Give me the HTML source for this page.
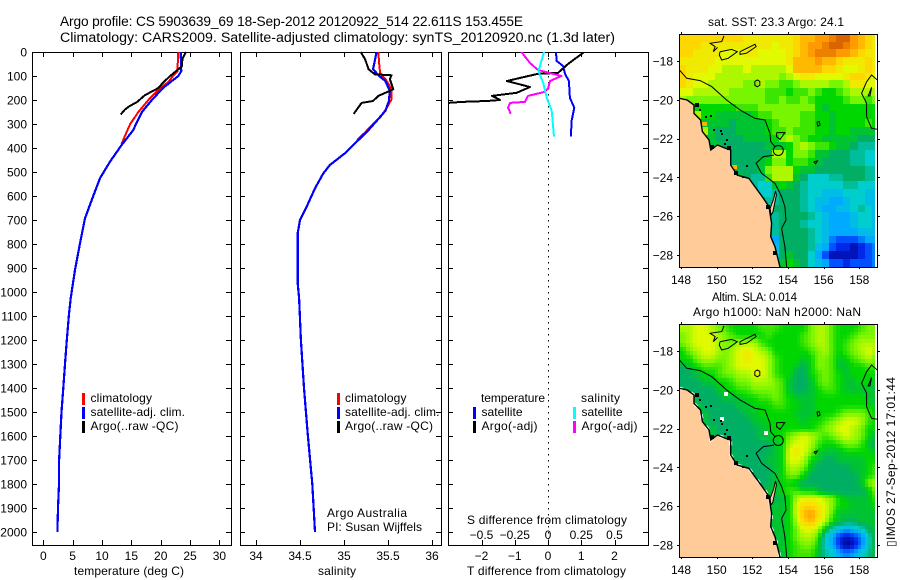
<!DOCTYPE html>
<html lang="en">
<head>
<meta charset="utf-8">
<title>Argo profile chart</title>
<style>
html,body{margin:0;padding:0;background:#fff;}
svg{display:block;font-family:"Liberation Sans",sans-serif;fill:#000;}
text{font-size:12px;}
</style>
</head>
<body>
<svg id="chart" xmlns="http://www.w3.org/2000/svg" width="900" height="580" viewBox="0 0 900 580">
  <defs>
    <clipPath id="clip-diff"><rect x="449" y="52" width="199" height="493"/></clipPath>
    <clipPath id="clip-map1"><rect x="680" y="34" width="197" height="233"/></clipPath>
    <clipPath id="clip-map2"><rect x="680" y="324" width="197" height="233"/></clipPath>
  </defs>
  <text x="60" y="26" style="font-size:13.7px" textLength="463" lengthAdjust="spacing">Argo profile: CS 5903639_69 18-Sep-2012 20120922_514 22.611S 153.455E</text>
  <text x="60" y="42" style="font-size:14.2px" textLength="555" lengthAdjust="spacing">Climatology: CARS2009. Satellite-adjusted climatology: synTS_20120920.nc (1.3d later)</text>

  <g id="marks"></g>

  <g>
    <rect x="82" y="393" width="3" height="12" fill="#f00"/>
    <rect x="82" y="407" width="3" height="12" fill="#00f"/>
    <rect x="82" y="421" width="3" height="12" fill="#000"/>
    <text x="90.5" y="402" textLength="61.5" lengthAdjust="spacing">climatology</text>
    <text x="90.5" y="416" textLength="94.5" lengthAdjust="spacing">satellite-adj. clim.</text>
    <text x="90.5" y="430" textLength="88" lengthAdjust="spacing">Argo(..raw -QC)</text>
  </g>
  <g>
    <rect x="337" y="393" width="3" height="12" fill="#f00"/>
    <rect x="337" y="407" width="3" height="12" fill="#00f"/>
    <rect x="337" y="421" width="3" height="12" fill="#000"/>
    <text x="345" y="402" textLength="61.5" lengthAdjust="spacing">climatology</text>
    <text x="345" y="416" textLength="94.5" lengthAdjust="spacing">satellite-adj. clim.</text>
    <text x="345" y="430" textLength="88" lengthAdjust="spacing">Argo(..raw -QC)</text>
    <text x="327" y="517" textLength="80" lengthAdjust="spacing">Argo Australia</text>
    <text x="327" y="531" textLength="95" lengthAdjust="spacing">PI: Susan Wijffels</text>
  </g>
  <g>
    <text x="481" y="402" textLength="64" lengthAdjust="spacing">temperature</text>
    <rect x="473" y="407" width="3" height="12" fill="#00f"/>
    <rect x="473" y="421" width="3" height="12" fill="#000"/>
    <text x="481.5" y="416" textLength="41" lengthAdjust="spacing">satellite</text>
    <text x="481.5" y="430" textLength="56" lengthAdjust="spacing">Argo(-adj)</text>
    <text x="581" y="402" textLength="39" lengthAdjust="spacing">salinity</text>
    <rect x="573" y="407" width="3" height="12" fill="#0ff"/>
    <rect x="573" y="421" width="3" height="12" fill="#f0f"/>
    <text x="581.5" y="416" textLength="41" lengthAdjust="spacing">satellite</text>
    <text x="581.5" y="430" textLength="56" lengthAdjust="spacing">Argo(-adj)</text>
  </g>

  <text x="74" y="575" textLength="110" lengthAdjust="spacing">temperature (deg C)</text>
  <text x="318" y="575" textLength="38" lengthAdjust="spacing">salinity</text>
  <text x="467" y="575" textLength="159" lengthAdjust="spacing">T difference from climatology</text>
  <text x="467" y="524" textLength="160" lengthAdjust="spacing">S difference from climatology</text>

  <text x="708" y="26" textLength="136" lengthAdjust="spacing">sat. SST: 23.3 Argo: 24.1</text>
  <text x="712" y="301" style="font-size:11.5px" textLength="85" lengthAdjust="spacing">Altim. SLA: 0.014</text>
  <text x="693" y="316" textLength="168" lengthAdjust="spacing">Argo h1000: NaN h2000: NaN</text>
  <text transform="translate(895,547) rotate(-90)" textLength="170" lengthAdjust="spacing">▯IMOS 27-Sep-2012 17:01:44</text>
</svg>

<script>
/* ---------- axis tick values ---------- */
const depthTicks = [0,100,200,300,400,500,600,700,800,900,1000,1100,1200,1300,1400,1500,1600,1700,1800,1900,2000];
const tempTicks = [0,5,10,15,20,25,30];
const salTicks = [34,34.5,35,35.5,36];
const tDiffTicks = [-2,-1,0,1,2];
const sDiffTicks = [-0.5,-0.25,0,0.25,0.5];
const sDiffLabels = ['−0.5','−0.25','0','0.25','0.5'];
const lonTicks = [148,150,152,154,156,158];
const latTicks = [-18,-20,-22,-24,-26,-28];

/* ---------- temperature profiles ---------- */
const satTempDepth = [0,80,100,150,200,250,300,325,387,457,526,617,693,797,908,1026,1100,1200,1300,1400,1500,1600,1700,1800,1900,2000];
const satTemp = [23.4,23.5,23.0,20.4,18.5,16.8,15.8,15.33,13.36,11.36,9.66,8.24,7.1,6.25,5.4,4.67,4.35,4.0,3.7,3.4,3.1,2.9,2.7,2.67,2.5,2.4];
const climTempDepth = [0,50,80,100,125,150,200,250,300,350,385];
const climTemp = [23.0,22.9,22.9,22.1,21.3,19.9,17.9,16.2,14.8,13.9,13.3];
const argoTempDepth = [0,30,60,100,130,150,180,210,225,240,260];
const argoTemp = [24.3,23.7,23.6,21.6,20.3,19.6,17.3,15.9,14.7,13.9,13.2];

/* ---------- salinity profiles ---------- */
const satSalDepth = [0,37,72,100,121,162,204,245,279,325,381,422,471,506,568,644,700,755,964,1026,1200,1400,1600,1800,2000];
const satSal = [35.37,35.35,35.33,35.40,35.47,35.52,35.51,35.47,35.39,35.28,35.125,35.01,34.84,34.765,34.67,34.576,34.5,34.474,34.474,34.49,34.51,34.545,34.59,34.64,34.67];
const climSalDepth = [0,50,87,117,155,197,237,273,307,335,366];
const climSal = [35.39,35.40,35.41,35.48,35.54,35.54,35.48,35.41,35.31,35.24,35.15];
const argoSalDepth = [0,30,72,93,97,113,155,170,183,204,212,232,258];
const argoSal = [35.19,35.24,35.28,35.35,35.54,35.52,35.56,35.47,35.39,35.33,35.2,35.16,35.11];

/* ---------- difference profiles ---------- */
const diffTSatDepth = [0,37,58,91,121,191,232,287,353];
const diffTSat = [0.24,0.26,0.45,0.51,0.63,0.66,0.79,0.71,0.69];
const diffTArgoDepth = [0,50,87,91,121,146,170,183,200,204,208,212];
const diffTArgo = [1.09,0.6,0.3,-0.3,-1.24,-0.54,-0.94,-1.69,-1.44,-1.84,-2.6,-3.0];
const diffSSatDepth = [0,58,79,129,191,245,353];
const diffSSat = [-0.03,-0.06,-0.073,-0.035,-0.01,0.028,0.045];
const diffSArgoDepth = [0,46,75,100,121,150,166,183,208,212,232,258];
const diffSArgo = [-0.2,-0.135,-0.075,0.10,0.015,0.002,-0.023,-0.15,-0.173,-0.286,-0.30,-0.28];

/* ---------- map fields: colour level per 0.4 degree cell, north to south ---------- */
const sstField = [
[17,17,17,17,17,17,17,17,17,16,16,16,16,16,16,16,17,18,18,19,19,20,21,21,19,18,17,16],
[17,17,17,16,16,16,16,16,16,16,16,16,16,15,16,16,17,18,19,19,20,21,21,20,19,18,17,16],
[17,17,16,16,16,16,15,15,15,16,16,15,15,15,15,16,17,18,19,20,20,20,19,19,18,17,16,16],
[16,16,16,16,16,15,15,15,15,15,15,15,15,15,15,16,18,18,18,19,18,18,17,16,16,16,17,16],
[17,16,16,16,15,15,14,14,14,15,14,14,14,14,14,15,18,18,18,18,17,17,16,15,15,16,17,16],
[17,16,15,15,15,14,14,14,14,14,14,14,14,14,13,14,15,16,16,15,15,15,15,16,17,17,16,15],
[17,16,15,15,14,14,14,14,14,13,13,14,13,13,12,12,13,14,14,14,14,13,13,14,16,16,15,15],
[15,15,14,14,14,14,14,13,13,13,13,13,12,12,12,11,12,12,13,12,11,11,12,13,14,14,14,14],
[14,13,13,13,13,13,13,13,13,13,13,13,12,12,13,12,12,13,12,11,11,11,11,12,13,13,12,13],
[14,14,11,11,11,11,11,11,12,12,12,13,13,13,13,13,13,13,13,11,10,11,11,11,11,11,11,11],
[14,14,14,11,11,10,10,10,10,10,11,12,12,13,13,13,13,12,12,11,11,10,11,11,11,11,11,11],
[14,14,14,10,10,10,10,9,10,10,10,10,11,12,13,13,13,12,12,11,11,10,11,11,11,11,12,11],
[14,14,14,14,10,9,9,9,10,10,10,10,11,12,12,13,12,12,12,11,11,10,11,11,10,10,10,10],
[10,10,10,10,10,9,9,9,9,10,10,10,10,11,13,14,13,12,11,11,10,10,10,10,10,9,9,9],
[10,10,10,10,10,10,9,9,9,9,9,9,10,10,10,11,13,14,13,12,12,11,10,10,9,8,8,8],
[10,10,10,10,10,10,9,9,9,9,9,9,9,14,14,11,13,13,12,10,10,9,9,9,8,8,7,7],
[10,10,10,10,10,10,10,9,9,9,9,10,11,13,13,11,12,12,11,10,9,9,9,9,8,8,7,7],
[10,10,10,10,10,10,10,10,9,9,9,10,13,14,14,14,11,10,10,9,9,9,9,9,9,9,8,8],
[10,10,10,10,10,10,10,10,10,9,8,8,12,14,14,14,10,9,7,7,7,8,8,9,9,9,8,8],
[10,10,10,10,10,10,10,10,10,10,8,7,7,10,11,10,9,8,7,7,7,7,7,8,8,7,7,7],
[10,10,10,10,10,10,10,10,10,10,10,7,7,8,9,9,9,8,7,7,6,6,6,7,7,7,6,6],
[10,10,10,10,10,10,10,10,10,10,10,10,8,8,9,9,9,8,7,6,6,5,5,6,7,7,6,6],
[10,10,10,10,10,10,10,10,10,10,10,10,9,9,9,9,9,8,7,6,5,5,6,6,7,8,7,6],
[10,10,10,10,10,10,10,10,10,10,10,10,10,8,9,9,9,9,8,7,6,5,5,5,6,7,7,6],
[10,10,10,10,10,10,10,10,10,10,10,10,10,8,9,9,9,8,7,7,6,5,5,5,6,7,7,6],
[10,10,10,10,10,10,10,10,10,10,10,10,10,8,9,9,9,9,8,7,6,5,5,5,5,6,6,6],
[10,10,10,10,10,10,10,10,10,10,10,10,10,5,9,9,9,9,8,7,6,4,3,3,3,4,5,5],
[10,10,10,10,10,10,10,10,10,10,10,10,10,6,9,9,9,9,8,6,5,3,2,2,1,2,3,4],
[10,10,10,10,10,10,10,10,10,10,10,10,10,7,9,10,9,9,7,5,3,1,1,1,1,2,3,4],
[10,10,10,10,10,10,10,10,10,10,10,10,10,7,10,11,10,9,7,6,5,3,3,2,3,3,3,4]
];
const slaField = [
[14,14,15,15,14,13,12,11,11,11,11,12,12,12,11,11,11,11,13,14,14,12,11,11,11,12,13,13],
[13,14,15,15,15,14,13,12,11,11,11,11,12,11,11,11,11,12,13,14,14,12,11,11,12,13,13,13],
[13,14,15,15,15,14,13,13,14,14,14,12,11,11,11,11,11,12,13,14,14,12,11,12,13,14,14,14],
[11,13,14,15,15,14,13,14,15,16,15,14,13,11,11,11,11,11,12,13,14,12,11,12,13,14,15,14],
[11,11,13,14,14,13,13,14,15,16,15,15,14,12,11,11,11,10,11,13,13,12,10,11,12,13,14,13],
[9,10,11,12,12,12,13,14,15,15,15,15,14,12,11,11,10,9,11,13,13,12,10,10,11,11,12,12],
[9,9,10,11,11,12,13,13,14,14,15,15,14,12,11,11,9,9,11,12,13,12,11,10,11,11,11,11],
[9,9,9,10,10,11,11,12,13,13,14,14,14,13,12,10,9,9,10,12,13,12,11,10,10,11,11,10],
[9,9,9,9,9,10,11,11,12,12,13,13,13,13,12,10,9,9,10,11,12,12,11,10,10,10,10,10],
[10,10,9,9,9,9,10,10,10,11,11,12,12,13,12,11,10,10,10,11,11,11,11,11,11,11,10,10],
[10,10,10,9,9,9,9,9,10,10,11,11,11,12,12,11,11,10,10,11,11,11,11,11,11,11,11,10],
[10,10,10,10,9,9,9,9,9,10,10,11,11,11,11,11,10,10,10,11,11,11,12,13,13,13,12,11],
[10,10,10,10,9,9,9,9,9,9,10,10,11,11,11,11,11,10,11,11,12,13,14,15,15,14,12,11],
[10,10,10,10,10,9,9,9,9,9,9,10,10,11,11,11,11,11,11,12,13,14,15,15,14,13,11,11],
[10,10,10,10,10,9,9,9,9,9,9,10,10,11,11,13,14,15,14,13,12,13,14,15,14,13,11,10],
[10,10,10,10,10,10,9,9,9,9,9,9,9,10,11,14,15,15,14,12,11,11,12,13,13,12,10,9],
[10,10,10,10,10,10,10,9,9,9,9,9,9,10,11,15,16,15,13,11,10,10,10,11,11,11,11,10],
[10,10,10,10,10,10,10,10,9,9,9,9,10,10,11,15,15,14,11,10,9,9,10,10,10,10,11,11],
[10,10,10,10,10,10,10,10,10,9,9,9,9,10,11,14,14,13,10,9,9,9,9,9,10,10,11,12],
[10,10,10,10,10,10,10,10,10,10,9,9,9,10,11,13,13,11,9,9,9,9,9,9,9,10,11,12],
[10,10,10,10,10,10,10,10,10,10,10,9,9,10,11,11,10,9,9,9,9,9,9,9,9,10,13,14],
[10,10,10,10,10,10,10,10,10,10,10,10,10,10,11,12,12,11,11,10,9,9,9,9,9,9,10,13],
[10,10,10,10,10,10,10,10,10,10,10,10,10,9,10,11,14,15,15,15,14,13,11,10,10,10,10,12],
[10,10,10,10,10,10,10,10,10,10,10,10,10,10,10,11,15,17,17,16,15,13,11,11,10,10,10,11],
[10,10,10,10,10,10,10,10,10,10,10,10,10,10,10,11,15,18,19,17,15,12,10,10,10,10,10,10],
[10,10,10,10,10,10,10,10,10,10,10,10,10,10,10,11,14,17,18,16,14,11,10,9,9,10,10,10],
[10,10,10,10,10,10,10,10,10,10,10,10,10,10,10,11,13,15,15,14,10,7,6,5,6,7,9,10],
[10,10,10,10,10,10,10,10,10,10,10,10,10,10,10,11,13,14,14,12,7,5,2,1,2,4,7,10],
[10,10,10,10,10,10,10,10,10,10,10,10,10,10,10,11,12,13,13,11,7,5,2,0,1,4,7,10],
[10,10,10,10,10,10,10,10,10,10,10,10,10,10,10,11,12,12,12,10,8,7,5,4,5,7,8,10]
];

/* ---------- geography, lon/lat degrees ---------- */
const coastLon = [147.89,148.35,148.73,148.73,149.1,149.2,149.57,149.67,150.04,150.5,150.79,150.79,151.16,151.81,152.56,152.94,152.99,153.08,153.03,153.27,153.55,153.55,147.89];
const coastLat = [-19.92,-20.01,-20.27,-20.7,-21.04,-21.64,-22.07,-22.59,-22.33,-22.5,-22.59,-23.36,-23.88,-24.05,-25.0,-25.51,-25.85,-26.37,-27.05,-27.57,-28.63,-28.7,-28.7];
const fraserLon = [153.3,153.35,153.15,153.05,153.0,153.2];
const fraserLat = [-24.7,-24.9,-25.8,-25.95,-25.6,-25.1];
const shelfNorthLon = [147.91,148.32,149.07,149.72,150.56,151.31,152.15,152.71,152.99,153.03,153.27];
const shelfNorthLat = [-18.46,-18.89,-19.01,-19.32,-20.01,-20.52,-20.96,-21.04,-21.73,-22.16,-22.42];
const shelfSouthLon = [153.21,152.62,152.21,152.52,153.27,153.64,153.83,153.89,153.64,153.83,153.93];
const shelfSouthLat = [-22.85,-22.93,-23.27,-23.79,-24.31,-24.99,-25.51,-26.2,-26.63,-27.57,-28.63];
const plateauLon = [159.01,158.69,158.41,158.13,158.41,158.41,158.69,159.01];
const plateauLat = [-18.98,-18.72,-19.07,-19.67,-20.18,-20.87,-21.47,-21.52];
const reef1Lon = [150.19,150.84,151.16,150.65,150.28,150.15,150.19];
const reef1Lat = [-17.52,-17.4,-17.52,-17.86,-17.95,-17.69,-17.52];
const reef2Lon = [151.31,152.15,152.21,151.68,151.31,151.31];
const reef2Lat = [-17.52,-17.14,-17.26,-17.6,-17.66,-17.52];
const reef3Lon = [150.41,150.28,149.63,149.91,149.81,150.05];
const reef3Lat = [-16.71,-17.0,-17.09,-17.26,-17.52,-17.3];
const reef4Lon = [152.14,152.28,152.42,152.42,152.28,152.14,152.14];
const reef4Lat = [-19.05,-18.98,-19.05,-19.25,-19.33,-19.25,-19.05];
const reef5Lon = [153.36,153.83,153.55,153.36,153.36];
const reef5Lat = [-21.69,-21.69,-22.04,-21.9,-21.69];
const reef6Lon = [155.62,155.75,155.8,155.68,155.62];
const reef6Lat = [-21.15,-21.12,-21.3,-21.36,-21.15];
const reef7Lon = [155.45,155.65,155.55,155.45];
const reef7Lat = [-23.2,-23.15,-23.3,-23.2];
const reef8Lon = [158.69,158.5,158.6,158.69];
const reef8Lat = [-19.36,-19.8,-19.8,-19.36];
const islandLon = [148.91,149.74,150.69,151.1,152.9,153.27,149.38,149.67,149.85,150.23,150.32,150.6,151.72,149.05,150.45,151.5];
const islandLat = [-20.27,-22.42,-22.5,-23.75,-25.5,-27.9,-20.87,-20.84,-21.56,-21.59,-21.76,-22.07,-23.41,-20.55,-22.3,-24.0];
const gapLon = [150.52,150.28,152.77];
const gapLat = [-20.23,-21.52,-22.24];
const warmLon = [149.3,151.0];
const warmLat = [-21.25,-23.45];
const argoLon = [153.455];
const argoLat = [-22.611];

/* ---------- colour scale ---------- */
const colourLevels = [0,2,3,5,7,9,11,13,15,17,19,21];
const colourR = [0,0,0,0,0,0,0,120,225,255,255,220];
const colourG = [0,40,80,170,205,175,215,245,250,215,155,100];
const colourB = [140,230,255,255,205,100,0,0,0,0,0,0];

/* ---------- layout ---------- */
const svg = document.getElementById('chart');
const marks = document.getElementById('marks');
const NS = 'http://www.w3.org/2000/svg';
const yDepth = d => 52 + d * 0.24;
const xTemp = v => 43.3 + v * 5.87;
const xSal = v => 256 + (v - 34) * 88;
const xT = v => 548 + v * 33.25;
const xS = v => 548 + v * 133;

function node(parent, tag, attrs) {
  const el = document.createElementNS(NS, tag);
  for (const k in attrs) el.setAttribute(k, attrs[k]);
  parent.appendChild(el);
  return el;
}

function label(parent, name, x, y, str, anchor) {
  const el = node(parent, 'text', {x: x, y: y, 'text-anchor': anchor});
  el.textContent = str;
  
  
  return el;
}

function tick(parent, name, x1, y1, x2, y2) {
  const el = node(parent, 'line', {x1: x1, y1: y1, x2: x2, y2: y2, stroke: '#000', 'stroke-width': 1, 'shape-rendering': 'crispEdges'});
  
  
}

function frame(parent, name, x, y, w, h) {
  const el = node(parent, 'rect', {x: x + 0.5, y: y + 0.5, width: w, height: h, fill: 'none', stroke: '#000', 'stroke-width': 1, 'shape-rendering': 'crispEdges'});
  
  
}

function profile(parent, name, xs, ds, xFn, colour, width) {
  const pts = xs.map((v, i) => xFn(v).toFixed(1) + ',' + yDepth(ds[i]).toFixed(1)).join(' ');
  const el = node(parent, 'polyline', {points: pts, fill: 'none', stroke: colour, 'stroke-width': width, 'shape-rendering': 'crispEdges', 'stroke-linejoin': 'round'});
  
  
}

/* ---------- profile panels ---------- */
function panel(name, left, right, hasLabels, xTickVals, xFn, xLabels) {
  const g = node(marks, 'g', {});
  
  
  frame(g, name + '-frame', left, 52, right - left, 493);
  depthTicks.forEach(d => {
    const y = Math.round(yDepth(d)) + 0.5;
    tick(g, 'depth-tick', left, y, left + 5, y);
    tick(g, 'depth-tick', right - 5, y, right, y);
    if (hasLabels) label(g, 'depth-label', 27, yDepth(d) + 4.5, String(d), 'end');
  });
  xTickVals.forEach((v, i) => {
    const x = Math.round(xFn(v)) + 0.5;
    tick(g, 'x-tick', x, 52, x, 57);
    tick(g, 'x-tick', x, 540, x, 545);
    label(g, 'x-label', xFn(v), 560, xLabels[i], 'middle');
  });
  return g;
}

const p1 = panel('temperature-panel', 32, 231, true, tempTicks, xTemp, tempTicks.map(String));
profile(p1, 'climatology-temperature-line', climTemp, climTempDepth, xTemp, '#f00', 2);
profile(p1, 'satellite-temperature-line', satTemp, satTempDepth, xTemp, '#00f', 2.2);
profile(p1, 'argo-temperature-line', argoTemp, argoTempDepth, xTemp, '#000', 2);

const p2 = panel('salinity-panel', 240, 441, false, salTicks, xSal, salTicks.map(String));
profile(p2, 'climatology-salinity-line', climSal, climSalDepth, xSal, '#f00', 2);
profile(p2, 'satellite-salinity-line', satSal, satSalDepth, xSal, '#00f', 2.2);
profile(p2, 'argo-salinity-line', argoSal, argoSalDepth, xSal, '#000', 2);

const p3 = panel('difference-panel', 448, 648, false, tDiffTicks, xT, tDiffTicks.map(v => v < 0 ? '−' + (-v) : String(v)));
sDiffTicks.forEach((v, i) => {
  label(p3, 's-difference-label', xS(v), 539, sDiffLabels[i], 'middle');
});
const zeroLine = node(p3, 'line', {x1: 548.5, y1: 52, x2: 548.5, y2: 545, stroke: '#000', 'stroke-width': 1.2, 'stroke-dasharray': '1.5 4.5', 'shape-rendering': 'crispEdges'});


const p3Lines = node(p3, 'g', {'clip-path': 'url(#clip-diff)'});


profile(p3Lines, 'temperature-satellite-difference-line', diffTSat, diffTSatDepth, xT, '#00f', 2);
profile(p3Lines, 'temperature-argo-difference-line', diffTArgo, diffTArgoDepth, xT, '#000', 2);
profile(p3Lines, 'salinity-argo-difference-line', diffSArgo, diffSArgoDepth, xS, '#f0f', 2);
profile(p3Lines, 'salinity-satellite-difference-line', diffSSat, diffSSatDepth, xS, '#0ff', 2);

/* ---------- maps ---------- */
function levelColour(v) {
  let i = 0;
  while (i < colourLevels.length - 2 && v > colourLevels[i + 1]) i++;
  const t = Math.min(1, Math.max(0, (v - colourLevels[i]) / (colourLevels[i + 1] - colourLevels[i])));
  const c = a => Math.round(a[i] + (a[i + 1] - a[i]) * t);
  return 'rgb(' + c(colourR) + ',' + c(colourG) + ',' + c(colourB) + ')';
}

function sampleField(field, r, c) {
  const rr = Math.max(0, Math.min(field.length - 1.001, r));
  const cc = Math.max(0, Math.min(field[0].length - 1.001, c));
  const r0 = Math.floor(rr), c0 = Math.floor(cc);
  const fr = rr - r0, fc = cc - c0;
  return (field[r0][c0] * (1 - fc) + field[r0][c0 + 1] * fc) * (1 - fr) +
         (field[r0 + 1][c0] * (1 - fc) + field[r0 + 1][c0 + 1] * fc) * fr;
}

function drawMap(name, top, field, clipId, isSla, sub) {
  const xLon = v => 681 + (v - 148) * 17.83;
  const yLat = v => top + 27 + (-18 - v) * 19.4;
  const path = (lons, lats) => lons.map((v, i) => xLon(v).toFixed(1) + ',' + yLat(lats[i]).toFixed(1)).join(' ');
  const g = node(marks, 'g', {});
  
  
  const inner = node(g, 'g', {'clip-path': 'url(#' + clipId + ')'});
  const step = 0.4 / sub;

  for (let r = 0; r < field.length * sub; r++) {
    for (let c = 0; c < field[0].length * sub; c++) {
      const lonL = 147.9 + c * step;
      if (lonL >= 158.88) continue;
      const lonR = Math.min(158.88, lonL + step);
      const latT = -16.6 - r * step;
      const x0 = Math.round(xLon(lonL));
      const y0 = Math.round(yLat(latT));
      const v = sub === 1 ? field[r][c] : sampleField(field, (r + 0.5) / sub - 0.5, (c + 0.5) / sub - 0.5);
      const cell = node(inner, 'rect', {
        x: x0, y: y0,
        width: Math.round(xLon(lonR)) - x0,
        height: Math.round(yLat(latT - step)) - y0,
        fill: levelColour(v), 'shape-rendering': 'crispEdges'
      });
      
      
    }
  }

  const land = node(inner, 'polygon', {points: path(coastLon, coastLat), fill: '#ffcc99', stroke: 'none'});
  
  
  const fraser = node(inner, 'polygon', {points: path(fraserLon, fraserLat), fill: '#ffcc99', stroke: 'none'});
  
  

  if (isSla) {
    gapLon.forEach((v, i) => {
      const gap = node(inner, 'rect', {x: Math.round(xLon(v)) - 2, y: Math.round(yLat(gapLat[i])) - 2, width: 4, height: 4, fill: '#fff', 'shape-rendering': 'crispEdges'});
      
      
    });
    const halo = node(inner, 'polyline', {points: path(coastLon.slice(0, 21), coastLat.slice(0, 21)), fill: 'none', stroke: '#fff', 'stroke-width': 3, 'stroke-dasharray': '4 9'});
    
    
  } else {
    warmLon.forEach((v, i) => {
      const warm = node(inner, 'rect', {x: Math.round(xLon(v)) - 2, y: Math.round(yLat(warmLat[i])) - 2, width: 5, height: 4, fill: '#ffb000', 'shape-rendering': 'crispEdges'});
      
      
    });
  }

  const coast = node(inner, 'polyline', {points: path(coastLon.slice(0, 21), coastLat.slice(0, 21)), fill: 'none', stroke: '#000', 'stroke-width': 1.4});
  
  
  const fraserLine = node(inner, 'polygon', {points: path(fraserLon, fraserLat), fill: 'none', stroke: '#000', 'stroke-width': 1});
  
  

  [[shelfNorthLon, shelfNorthLat], [shelfSouthLon, shelfSouthLat], [plateauLon, plateauLat],
   [reef1Lon, reef1Lat], [reef2Lon, reef2Lat], [reef3Lon, reef3Lat], [reef4Lon, reef4Lat],
   [reef5Lon, reef5Lat], [reef6Lon, reef6Lat], [reef7Lon, reef7Lat], [reef8Lon, reef8Lat]].forEach(pair => {
    const iso = node(inner, 'polyline', {points: path(pair[0], pair[1]), fill: 'none', stroke: '#000', 'stroke-width': 1});
    
    
  });

  islandLon.forEach((v, i) => {
    const size = i < 6 ? 4 : 2;
    const isl = node(inner, 'rect', {x: Math.round(xLon(v)) - size / 2, y: Math.round(yLat(islandLat[i])) - size / 2, width: size, height: size, fill: '#000', 'shape-rendering': 'crispEdges'});
    
    
  });

  const argo = node(inner, 'circle', {cx: xLon(argoLon[0]), cy: yLat(argoLat[0]), r: 5, fill: 'none', stroke: '#000', 'stroke-width': 1});
  
  

  frame(g, name + '-frame', 679, top, 198, 233);
  lonTicks.forEach(v => {
    const x = Math.round(xLon(v)) + 0.5;
    tick(g, 'longitude-tick', x, top - 2, x, top);
    tick(g, 'longitude-tick', x, top + 233, x, top + 235);
    label(g, 'longitude-label', xLon(v), top + 250, String(v), 'middle');
  });
  latTicks.forEach(v => {
    const y = Math.round(yLat(v)) + 0.5;
    tick(g, 'latitude-tick', 677, y, 679, y);
    tick(g, 'latitude-tick', 877, y, 880, y);
    label(g, 'latitude-label', 673, yLat(v) + 4.5, '−' + (-v), 'end');
  });
}

drawMap('sst-map', 34, sstField, 'clip-map1', false, 1);
drawMap('sla-map', 324, slaField, 'clip-map2', true, 2);
</script>
</body>
</html>
